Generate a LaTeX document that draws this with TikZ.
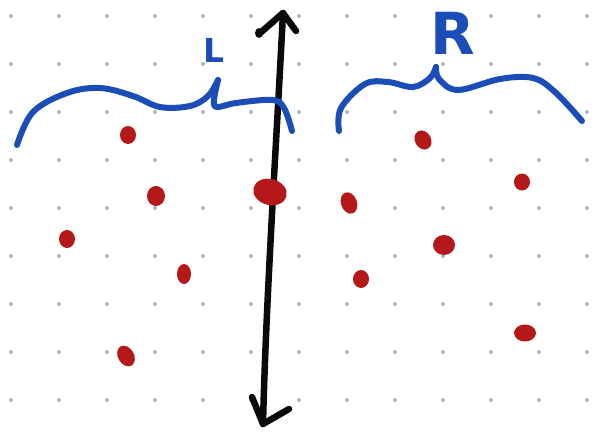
\documentclass[tikz,border=0pt]{standalone}
\usepackage{fontspec}
\setmainfont{DejaVu Sans}
\usepackage{xcolor}
\definecolor{Ink}{HTML}{0A0A0A}
\definecolor{Pen}{HTML}{1A4DB8}
\definecolor{Dot}{HTML}{B51818}
\definecolor{Grid}{HTML}{A6B6CF}

\begin{document}
\begin{tikzpicture}[x=1pt,y=-1pt,
        g/.style={fill=Grid},
        br/.style={draw=Pen,line width=6pt,line cap=round,line join=round},
        ax/.style={draw=Ink,line width=6.5pt,line cap=round,line join=round},
        pt/.style={fill=Dot},
        lbl/.style={text=Pen,inner sep=0pt,font=\bfseries}]
        \useasboundingbox[fill=white] (0,0) rectangle (597,434);
        % dotted paper
        \foreach \i in {0,...,12} \foreach \j in {0,...,8} \fill[g] (11+48*\i,16+48*\j) circle (2);
        % axis with two heads
        \coordinate (top) at (283,13);
        \coordinate (bot) at (263,424);
        \draw[ax] (top) .. controls (276,150) and (266,300) .. (bot);
        \draw[ax] (259,34) -- (top) -- (296,31);
        \draw[ax] (252,397) -- (bot) -- (289,409);
        \fill[Ink] (259,33) ellipse (4 and 5);
        % braces
        \draw[br] plot[smooth,tension=.6] coordinates {(17,145) (33,112) (67,93) (100,88) (133,96) (160,107) (190,106) (208,96) (218,80)};
        \draw[br] plot[smooth,tension=.6] coordinates {(218,80) (214,100) (217,107) (236,103) (272,100) (284,108) (292,131)};
        \draw[br] plot[smooth,tension=.6] coordinates {(339,131) (341,108) (365,84) (388,82) (413,87) (430,78) (436,67)};
        \draw[br] plot[smooth,tension=.6] coordinates {(436,67) (439,79) (458,90) (500,79) (533,78) (555,92) (582,121)};
        \node[lbl,font=\fontsize{33}{33}\selectfont\bfseries] (labL) at (214,50) {L};
        \node[lbl,font=\fontsize{58}{58}\selectfont\bfseries] (labR) at (453,33) {R};
        % points, left side
        \fill[pt] (128,135) ellipse (8 and 9);
        \fill[pt] (156,196) ellipse (9 and 10);
        \fill[pt] (67,239) ellipse (8 and 9);
        \fill[pt] (184,274) ellipse (7 and 10);
        \fill[pt,rotate around={30:(126,356)}] (126,356) ellipse (8 and 11);
        % point on the axis
        \fill[pt,rotate around={-15:(270,192)}] (270,192) ellipse (17 and 13);
        % points, right side
        \fill[pt,rotate around={30:(423,140)}] (423,140) ellipse (8 and 10);
        \fill[pt] (522,182) ellipse (8 and 8.5);
        \fill[pt,rotate around={20:(349,203)}] (349,203) ellipse (8 and 11);
        \fill[pt] (444,245) ellipse (11 and 10);
        \fill[pt] (361,279) ellipse (8 and 9);
        \fill[pt] (525,333) ellipse (11 and 8.5);
      \end{tikzpicture}
\end{document}
